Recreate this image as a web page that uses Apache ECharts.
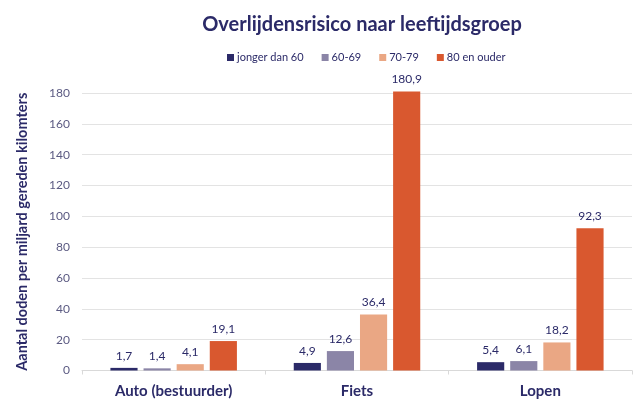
<!DOCTYPE html>
<html><head><meta charset="utf-8">
<script src="https://cdn.jsdelivr.net/npm/echarts@6/dist/echarts.min.js"></script>
<style>html,body{margin:0;padding:0;background:#fff}#c{width:640px;height:409px}</style>
</head><body><div id="c"></div>
<script>
const categories = ['Auto (bestuurder)', 'Fiets', 'Lopen'];
const seriesNames = ['jonger dan 60', '60-69', '70-79', '80 en ouder'];
const jongerDan60 = [1.7, 4.9, 5.4];
const s60_69 = [1.4, 12.6, 6.1];
const s70_79 = [4.1, 36.4, 18.2];
const s80plus = [19.1, 180.9, 92.3];
const yTicks = [0, 20, 40, 60, 80, 100, 120, 140, 160, 180];
const colors = ['#2b2a68', '#8b85a7', '#eaa784', '#d9582f'];
const navy = '#2b2a68';
const font = 'Lato, "Open Sans", sans-serif';

const values = [jongerDan60, s60_69, s70_79, s80plus];
const chart = echarts.init(document.getElementById('c'));
chart.setOption({
  animation: false,
  textStyle: { fontFamily: font },
  title: {
    text: 'Overlijdensrisico naar leeftijdsgroep',
    left: 357, top: 10, textAlign: 'center',
    textStyle: { fontFamily: font, fontSize: 20, fontWeight: 'bold', color: navy }
  },
  legend: {
    data: seriesNames, left: 222, top: 47, itemWidth: 7, itemHeight: 7, itemGap: 18,
    icon: 'rect',
    textStyle: { fontFamily: font, fontSize: 11, color: navy, padding: [0, 0, 0, -2] }
  },
  grid: { left: 82, right: 8, top: 93, bottom: 38.5 },
  xAxis: {
    type: 'category', data: categories,
    axisLine: { lineStyle: { color: '#d9d9d9' } },
    axisTick: { show: true, length: 4, lineStyle: { color: '#d9d9d9' } },
    axisLabel: { fontFamily: font, fontSize: 15, fontWeight: 'bold', color: navy, margin: 13 }
  },
  yAxis: {
    type: 'value', min: 0, max: 180, interval: 20,
    name: 'Aantal doden per miljard gereden kilomters',
    nameLocation: 'middle', nameGap: 52, nameRotate: 90,
    nameTextStyle: { fontFamily: font, fontSize: 14.5, fontWeight: 'bold', color: navy },
    axisLine: { show: false }, axisTick: { show: false },
    axisLabel: { fontFamily: font, fontSize: 12, color: '#5b5a82', margin: 12,
      formatter: v => yTicks.includes(v) ? String(v) : '' },
    splitLine: { lineStyle: { color: '#e3e3e3' } }
  },
  series: seriesNames.map((n, i) => ({
    name: n, type: 'bar', data: values[i], clip: false,
    barGap: '22%', barCategoryGap: '31%',
    itemStyle: { color: colors[i] },
    label: { show: true, position: 'top', distance: 6, fontFamily: font, fontSize: 12, color: navy,
      formatter: p => p.value.toFixed(1).replace('.', ',') }
  }))
});
</script></body></html>
